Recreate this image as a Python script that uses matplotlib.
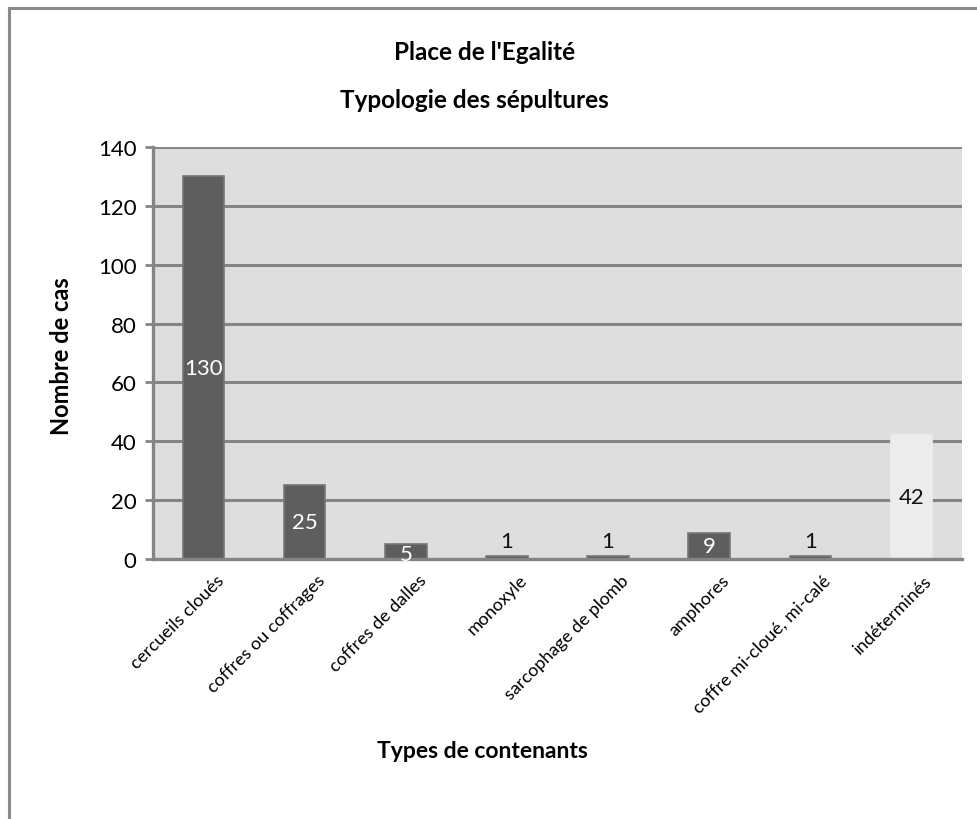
import matplotlib
matplotlib.use("Agg")
import matplotlib.pyplot as plt
from matplotlib.patches import Rectangle
from matplotlib.transforms import ScaledTranslation

plt.rcParams['font.family'] = ['Lato', 'DejaVu Sans']

categories = ["cercueils cloués", "coffres ou coffrages", "coffres de dalles", "monoxyle",
              "sarcophage de plomb", "amphores", "coffre mi-cloué, mi-calé", "indéterminés"]
counts = [130, 25, 5, 1, 1, 9, 1, 42]
yticks = [0, 20, 40, 60, 80, 100, 120, 140]

W, H = 978, 820
fig = plt.figure(figsize=(W / 100, H / 100), dpi=100)

# chart frame (top and left edges)
fig.patches.append(Rectangle((9 / W, -0.1), 1.2, 1 - 9 / H + 0.1, transform=fig.transFigure,
                             fill=False, edgecolor="#8a8a8a", linewidth=2.2, zorder=0))

ax = fig.add_axes([153 / W, 1 - 560 / H, (962 - 153) / W, (560 - 148) / H])
ax.set_facecolor("#dedede")
ax.set_axisbelow(True)

x = range(len(categories))
dark, light = "#5e5e5e", "#ececec"
colors = [dark] * (len(counts) - 1) + [light]
edges = ["#787878"] * (len(counts) - 1) + [light]
ax.bar(x, counts, width=0.41, color=colors, edgecolor=edges, linewidth=1.2, zorder=2)

ax.set_xlim(-0.5, len(categories) - 0.5)
ax.set_ylim(0, 140)
ax.set_yticks(yticks)
ax.yaxis.grid(True, color="#858585", linewidth=2.2)
ax.tick_params(axis="y", length=6, width=2, color="#858585", labelsize=16, pad=6)
ax.tick_params(axis="x", length=0, labelsize=13, pad=9)
ax.set_xticks(list(x))
ax.set_xticklabels(categories, rotation=45, ha="right", rotation_mode="anchor")
shift = ScaledTranslation(12 / 100, 0, fig.dpi_scale_trans)
for lab in ax.get_xticklabels():
    lab.set_transform(lab.get_transform() + shift)

for side in ("top", "right"):
    ax.spines[side].set_visible(False)
for side in ("left", "bottom"):
    ax.spines[side].set_color("#858585")
    ax.spines[side].set_linewidth(2.4)
ax.spines["bottom"].set_zorder(3)

# value labels: centred in the bar, above it for the tiny bars
for xi, v, c in zip(x, counts, colors):
    if v <= 1:
        ax.text(xi, v + 5, str(v), ha="center", va="center", fontsize=16, color="#111111", zorder=4)
    else:
        tc = "white" if c == dark else "#111111"
        ax.text(xi, v / 2 - (0.8 if v < 8 else 0), str(v), ha="center", va="center",
                fontsize=16, color=tc, zorder=4)

fig.text(485 / W, 1 - 53 / H, "Place de l'Egalité", ha="center", va="center",
         fontsize=17.5, fontweight="bold")
fig.text(474 / W, 1 - 101 / H, "Typologie des sépultures", ha="center", va="center",
         fontsize=17.5, fontweight="bold")
fig.text(482 / W, 1 - 752 / H, "Types de contenants", ha="center", va="center",
         fontsize=16.5, fontweight="bold")
fig.text(62 / W, 1 - 356 / H, "Nombre de cas", ha="center", va="center", rotation=90,
         fontsize=17, fontweight="bold")

fig.savefig("out.png", dpi=100)
